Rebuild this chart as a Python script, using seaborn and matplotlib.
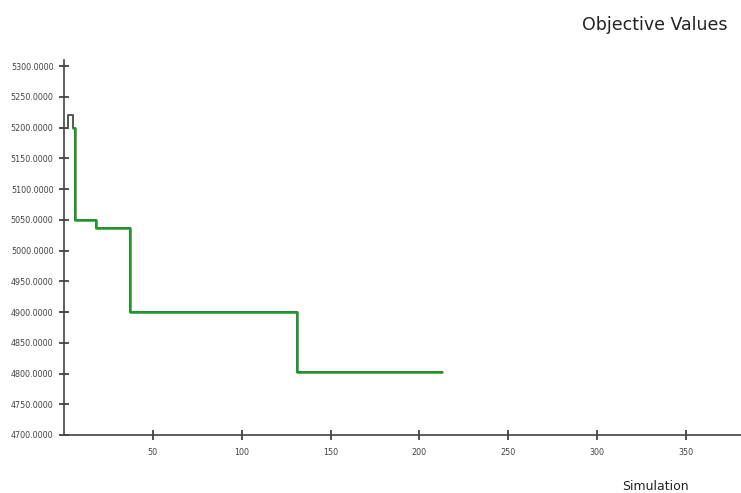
import matplotlib
matplotlib.use("Agg")
import matplotlib.pyplot as plt
import seaborn as sns
import pandas as pd

# Data (simulation index, objective value), step-wise
sim_current = [1, 2, 5, 6, 18, 37, 131, 213]
val_current = [5200, 5220, 5200, 5050, 5037, 4900, 4802, 4802]
sim_best = [5, 6, 18, 37, 131, 213]
val_best = [5200, 5050, 5037, 4900, 4802, 4802]
x_ticks = [50, 100, 150, 200, 250, 300, 350]
y_ticks = [4700, 4750, 4800, 4850, 4900, 4950, 5000, 5050, 5100, 5150, 5200, 5250, 5300]

sns.set_style("white")
plt.rcParams['font.family'] = ['DejaVu Sans']

fig = plt.figure(figsize=(7.41, 4.93), dpi=100)
ax = fig.add_axes([64 / 741, 1 - 435 / 493, 1 - 64 / 741, (435 - 60) / 493])

df_c = pd.DataFrame({"sim": sim_current, "val": val_current})
df_b = pd.DataFrame({"sim": sim_best, "val": val_best})
sns.lineplot(data=df_c, x="sim", y="val", ax=ax, color="#555555", linewidth=1.4,
             drawstyle="steps-post", estimator=None)
sns.lineplot(data=df_b, x="sim", y="val", ax=ax, color="#1f9a2a", linewidth=1.8,
             drawstyle="steps-post", estimator=None)

ax.set_xlim(0, 381)
ax.set_ylim(4700, 5310)
ax.set_xticks(x_ticks)
ax.set_yticks(y_ticks)
ax.set_xticklabels([str(t) for t in x_ticks])
ax.set_yticklabels([f"{t:.4f}" for t in y_ticks])
ax.tick_params(axis="both", direction="inout", length=7, width=1.2, color="#333333",
               labelsize=5.8, labelcolor="#444444", pad=4, bottom=True, left=True)
ax.tick_params(axis="x", pad=6)
for s in ["top", "right"]:
    ax.spines[s].set_visible(False)
for s in ["left", "bottom"]:
    ax.spines[s].set_color("#444444")
    ax.spines[s].set_linewidth(1.2)
ax.set_xlabel("")
ax.set_ylabel("")

fig.text(655 / 741, 1 - 25 / 493, "Objective Values", ha="center", va="center",
         fontsize=12.5, color="#222222")
fig.text(655 / 741, 1 - 487 / 493, "Simulation", ha="center", va="center",
         fontsize=9, color="#222222")

fig.savefig("out.png", dpi=100)
